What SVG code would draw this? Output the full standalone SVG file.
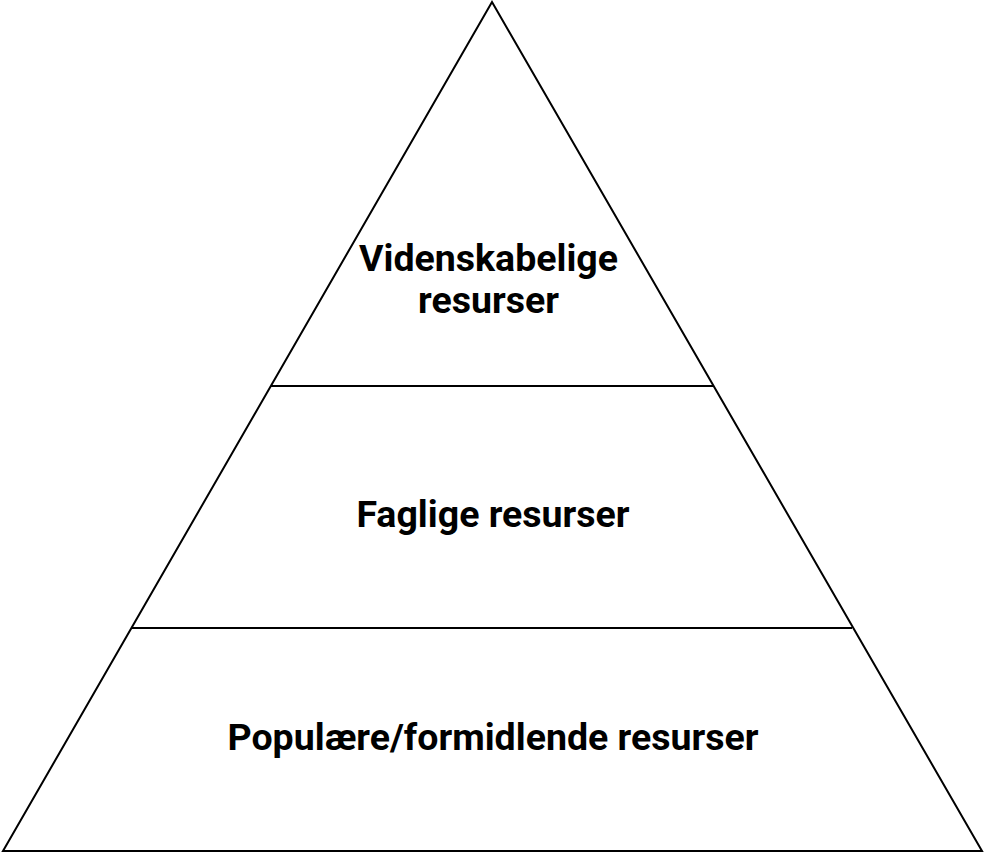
<svg xmlns="http://www.w3.org/2000/svg" width="984" height="853" viewBox="0 0 984 853">
<style>
.edge{fill:none;stroke:#000;stroke-width:2;stroke-linejoin:miter}
.lbl{font-family:Roboto,"Liberation Sans",sans-serif;font-weight:bold;font-size:37.5px;fill:#000;text-anchor:middle}
</style>
<rect width="984" height="853" fill="#fff"/>
<g id="connectors">
<polygon class="edge" points="492,2 982,851 3,851"/>
<line class="edge" x1="271" y1="386" x2="713" y2="386"/>
<line class="edge" x1="131" y1="628" x2="852" y2="628"/>
</g>
<g id="top"><text class="lbl" x="488.5" y="271">Videnskabelige</text><text class="lbl" x="488.5" y="313">resurser</text></g>
<g id="middle"><text class="lbl" x="493" y="527">Faglige resurser</text></g>
<g id="bottom"><text class="lbl" x="493" y="750">Populære/formidlende resurser</text></g>
</svg>
